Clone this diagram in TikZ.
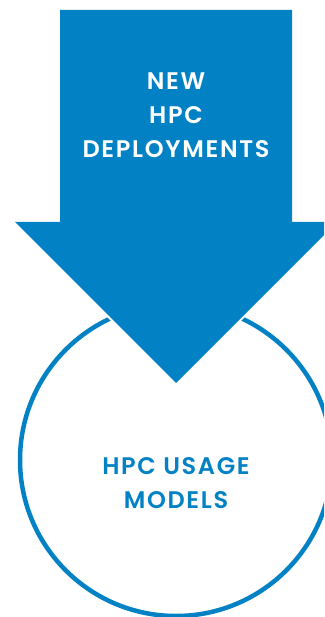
\documentclass[tikz,border=0pt]{standalone}
\usepackage{fontspec}
\usepackage{tikz}
\newfontfamily\labelfont{Poppins}[LetterSpace=7,BoldFont={Poppins SemiBold}]
\definecolor{hpcblue}{RGB}{2,130,196}

\begin{document}
\begin{tikzpicture}[x=1pt,y=-1pt,
    lbl/.style={font=\labelfont\bfseries\fontsize{24}{34}\selectfont,align=center},
    ring/.style={circle,draw=hpcblue,line width=4.5pt,minimum size=312pt,inner sep=0pt}]
    \useasboundingbox (0,0) rectangle (324,617);
    \clip (0,0) rectangle (324,617);
    % circle with its label
    \node[ring] (usage) at (176,460) {};
    \node[lbl,text=hpcblue] (usagetext) at (176,483) {HPC USAGE\\MODELS};
    % the arrow on top
    \fill[hpcblue,preaction={draw=white,line width=4pt}]
      (60,10) -- (292,10) -- (292,222) -- (337,222) -- (176,383)
      -- (15,222) -- (60,222) -- cycle;
    \node[lbl,text=white] (deploy) at (176,115.5) {NEW\\HPC\\DEPLOYMENTS};
\end{tikzpicture}
\end{document}
